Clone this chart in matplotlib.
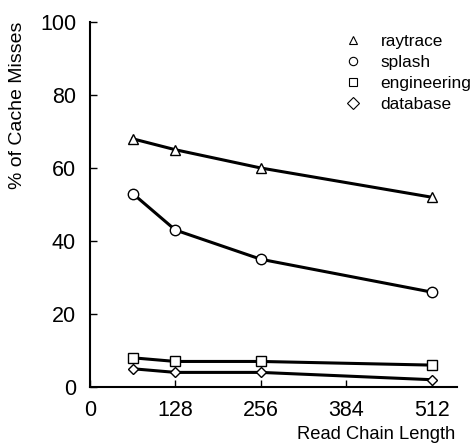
import matplotlib
matplotlib.use("Agg")
import matplotlib.pyplot as plt
from matplotlib.lines import Line2D

plt.rcParams['font.family'] = ['Liberation Sans', 'DejaVu Sans']

chain_length = [64, 128, 256, 512]
series_names = ["raytrace", "splash", "engineering", "database"]
raytrace = [68, 65, 60, 52]
splash = [53, 43, 35, 26]
engineering = [8, 7, 7, 6]
database = [5, 4, 4, 2]
x_ticks = [0, 128, 256, 384, 512]
y_ticks = [0, 20, 40, 60, 80, 100]

series = [raytrace, splash, engineering, database]
markers = ["^", "o", "s", "D"]
msizes = [7.5, 7.5, 7.5, 5.5]

fig = plt.figure(figsize=(4.77, 4.44), dpi=100)
ax = fig.add_axes([90/477, 1-387/444, (457-90)/477, (387-22)/444])

for vals, m, ms in zip(series, markers, msizes):
    ax.plot(chain_length, vals, color="black", lw=2.2, marker=m, ms=ms,
            mfc="white", mec="black", mew=1.0, clip_on=False)

ax.set_xlim(0, 550)
ax.set_ylim(0, 100)
ax.set_xticks(x_ticks)
ax.set_yticks(y_ticks)
ax.tick_params(direction="in", length=5, width=1, labelsize=15.5)
ax.tick_params(axis="x", pad=9)
ax.tick_params(axis="y", pad=10)
for s in ["top", "right"]:
    ax.spines[s].set_visible(False)
for s in ["left", "bottom"]:
    ax.spines[s].set_linewidth(1.5)

fig.text(455/477, 1-434/444, "Read Chain Length", ha="right", va="center", fontsize=13.2)
fig.text(18/477, 1-22/444, "% of Cache Misses", ha="center", va="top", rotation=90, fontsize=14)

handles = [Line2D([], [], ls="", marker=m, ms=6, mfc="white", mec="black", mew=0.8)
           for m in markers]
leg = ax.legend(handles, series_names, loc="upper left",
                bbox_to_anchor=(336/477, 1-25.5/444), bbox_transform=fig.transFigure,
                frameon=False, fontsize=12.4, borderpad=0, handlelength=1.0,
                handletextpad=1.08, labelspacing=0.35)

fig.savefig("out.png", dpi=100)
